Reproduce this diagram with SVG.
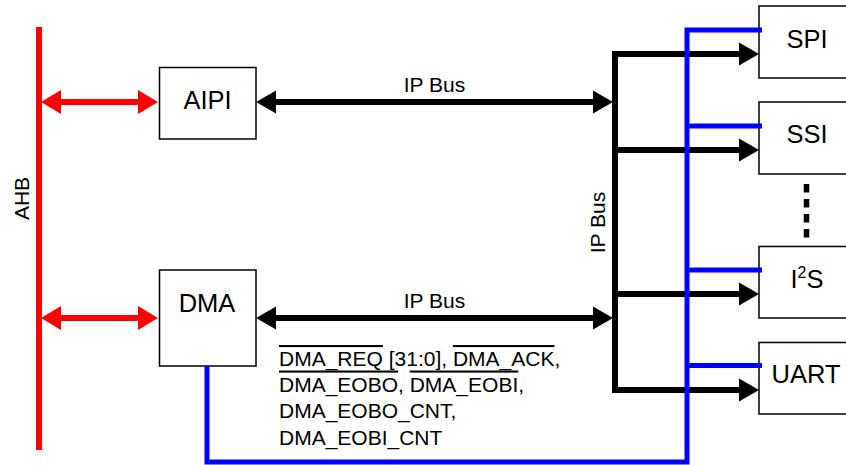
<svg xmlns="http://www.w3.org/2000/svg" width="846" height="465" viewBox="0 0 846 465">
<style>
.box{fill:#fff;stroke:#000;stroke-width:1.5}
.lbl{font-family:"Liberation Sans",Arial,sans-serif;font-size:25.5px;fill:#000;text-anchor:middle}
.sm{font-family:"Liberation Sans",Arial,sans-serif;font-size:21px;fill:#000}
.mid{text-anchor:middle}
.red{stroke:#ff0000;stroke-width:6;fill:none}
.blk{stroke:#000;stroke-width:6;fill:none}
.blu{stroke:#0000ff;stroke-width:5;fill:none}
.ov{text-decoration:overline}
</style>
<defs>
<marker id="ahR" markerUnits="userSpaceOnUse" markerWidth="20" markerHeight="24" refX="0" refY="12" orient="auto-start-reverse" overflow="visible">
<path d="M0,0 L20,12 L0,24 Z" fill="#ff0000"/>
</marker>
<marker id="ahK" markerUnits="userSpaceOnUse" markerWidth="20" markerHeight="23" refX="0" refY="11.5" orient="auto-start-reverse" overflow="visible">
<path d="M0,0 L20,11.5 L0,23 Z" fill="#000"/>
</marker>
</defs>

<g id="ahb">
<line x1="39" y1="27" x2="39" y2="450" stroke="#ff0000" stroke-width="6"/>
<text class="sm mid" transform="translate(29,198.5) rotate(-90)">AHB</text>
</g>

<g id="aipi">
<rect class="box" x="159.5" y="67.5" width="96.5" height="71.5"/>
<text class="lbl" x="207.5" y="109">AIPI</text>
</g>
<g id="dma">
<rect class="box" x="159.5" y="270" width="96.5" height="96"/>
<text class="lbl" x="207" y="312">DMA</text>
</g>
<g id="spi">
<rect class="box" x="759" y="6" width="96" height="72"/>
<text class="lbl" x="807" y="48">SPI</text>
</g>
<g id="ssi">
<rect class="box" x="759" y="102" width="96" height="72"/>
<text class="lbl" x="807" y="143">SSI</text>
</g>
<g id="i2s">
<rect class="box" x="759" y="246.5" width="96" height="71.5"/>
<text class="lbl" x="807" y="288">I<tspan font-size="16" dy="-10">2</tspan><tspan dy="10">S</tspan></text>
</g>
<g id="uart">
<rect class="box" x="759" y="342.5" width="96" height="71.5"/>
<text class="lbl" x="806" y="383">UART</text>
</g>

<g id="connectors">
<line class="red" x1="61" y1="102" x2="138" y2="102" marker-start="url(#ahR)" marker-end="url(#ahR)"/>
<line class="red" x1="61" y1="318" x2="138" y2="318" marker-start="url(#ahR)" marker-end="url(#ahR)"/>
<line class="blk" x1="276" y1="102" x2="593" y2="102" marker-start="url(#ahK)" marker-end="url(#ahK)"/>
<line class="blk" x1="276" y1="318" x2="593" y2="318" marker-start="url(#ahK)" marker-end="url(#ahK)"/>
<path class="blk" d="M739,54 H615 V390 H739" stroke-linejoin="miter" marker-start="url(#ahK)" marker-end="url(#ahK)"/>
<line class="blk" x1="615" y1="150" x2="739" y2="150" marker-end="url(#ahK)"/>
<line class="blk" x1="615" y1="294" x2="739" y2="294" marker-end="url(#ahK)"/>
<path class="blu" d="M762,30 H687 V462 H207 V366" stroke-linejoin="miter"/>
<line class="blu" x1="687" y1="126" x2="762" y2="126"/>
<line class="blu" x1="687" y1="270" x2="762" y2="270"/>
<line class="blu" x1="687" y1="365.5" x2="762" y2="365.5"/>
<line x1="806.5" y1="184" x2="806.5" y2="239" stroke="#000" stroke-width="5.5" stroke-dasharray="8.5 6.5"/>
</g>

<g id="labels">
<text class="sm mid" x="434.5" y="92">IP Bus</text>
<text class="sm mid" x="434.5" y="308">IP Bus</text>
<text class="sm mid" transform="translate(605,222.5) rotate(-90)">IP Bus</text>
<text class="sm" x="279" y="366"><tspan class="ov">DMA_REQ</tspan> [31:0], <tspan class="ov">DMA_ACK</tspan>,<tspan x="279" y="391.5"><tspan class="ov">DMA_EOBO</tspan>, <tspan class="ov">DMA_EOBI</tspan>,</tspan><tspan x="279" y="418">DMA_EOBO_CNT,</tspan><tspan x="279" y="445">DMA_EOBI_CNT</tspan></text>
</g>
</svg>
